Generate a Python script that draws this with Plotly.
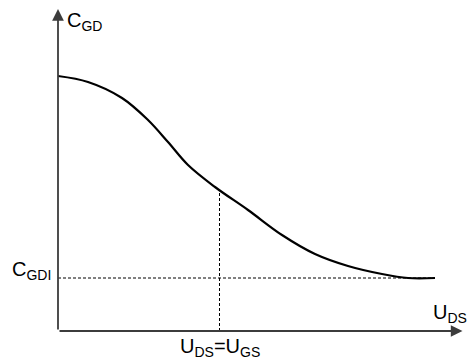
import plotly.graph_objects as go

# Curve C_GD(U_DS), arbitrary units
u_ds = [0.0, 3.0, 6.4, 9.0, 11.0, 13.0, 15.7, 19.0, 22.4, 25.7, 29.0, 32.4, 35.0, 37.7]
c_gd = [25.5, 24.9, 23.3, 21.1, 18.9, 16.6, 14.4, 12.1, 9.6, 7.7, 6.5, 5.7, 5.3, 5.3]

c_gdi = 5.3          # asymptotic level
u_gs = 16.15         # point where U_DS = U_GS
c_at_ugs = 14.1      # curve value at that point
x_axis_end = 40.45
y_axis_end = 32.2

FONT = "Liberation Sans, Arial, sans-serif"

fig = go.Figure()

fig.add_trace(go.Scatter(x=u_ds, y=c_gd, mode="lines",
                         line=dict(color="black", width=2.2, shape="spline", smoothing=1.0),
                         hoverinfo="skip"))
fig.add_trace(go.Scatter(x=[0, u_ds[-1]], y=[c_gdi, c_gdi], mode="lines",
                         line=dict(color="black", width=1, dash="3px,2px"), hoverinfo="skip"))
fig.add_trace(go.Scatter(x=[u_gs, u_gs], y=[0, c_at_ugs], mode="lines",
                         line=dict(color="black", width=1, dash="3px,2px"), hoverinfo="skip"))

axis_col = "#3c3c3c"
fig.add_annotation(x=0, y=y_axis_end, ax=0, ay=0, xref="x", yref="y", axref="x", ayref="y",
                   showarrow=True, arrowhead=2, arrowsize=1.3, arrowwidth=1.8,
                   arrowcolor=axis_col, text="")
fig.add_annotation(x=x_axis_end, y=0, ax=0, ay=0, xref="x", yref="y", axref="x", ayref="y",
                   showarrow=True, arrowhead=2, arrowsize=1.3, arrowwidth=1.8,
                   arrowcolor=axis_col, text="")

fs = 20
fig.add_annotation(x=0.7, y=31.0, xref="x", yref="y", text="C<sub>GD</sub>", showarrow=False,
                   xanchor="left", yanchor="middle", font=dict(size=fs, color="black", family=FONT))
fig.add_annotation(x=-0.5, y=c_gdi + 0.8, xref="x", yref="y", text="C<sub>GDI</sub>", showarrow=False,
                   xanchor="right", yanchor="middle", font=dict(size=fs, color="black", family=FONT))
fig.add_annotation(x=37.3, y=1.8, xref="x", yref="y", text="U<sub>DS</sub>", showarrow=False,
                   xanchor="left", yanchor="middle", font=dict(size=fs, color="black", family=FONT))
fig.add_annotation(x=u_gs, y=-1.6, xref="x", yref="y", text="U<sub>DS</sub>=U<sub>GS</sub>",
                   showarrow=False, xanchor="center", yanchor="middle",
                   font=dict(size=fs, color="black", family=FONT))

# page body has an 8px margin, so the figure is 8px smaller and its ranges start 8px later
fig.update_layout(
    width=468, height=352,
    margin=dict(l=0, r=0, t=0, b=0),
    paper_bgcolor="white", plot_bgcolor="white",
    showlegend=False,
    xaxis=dict(range=[-5.0, 41.8], visible=False, fixedrange=True),
    yaxis=dict(range=[-2.9, 32.3], visible=False, fixedrange=True),
)

fig.write_html("out.html")
